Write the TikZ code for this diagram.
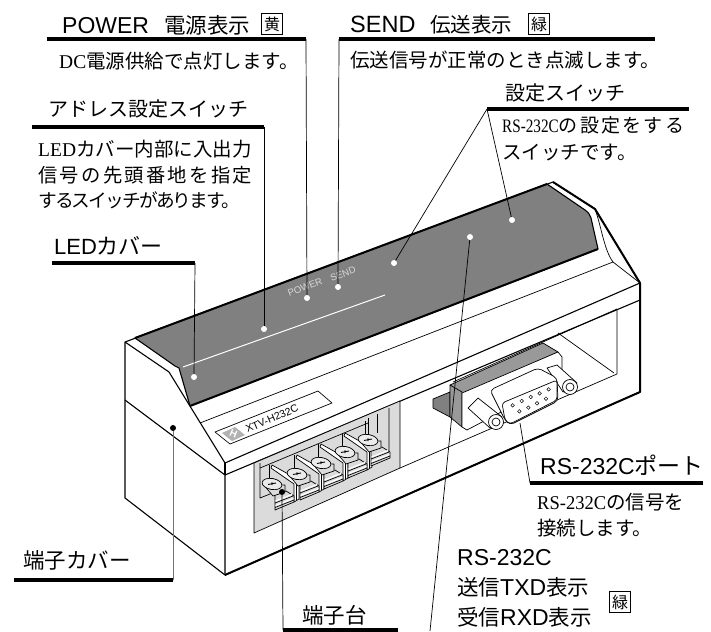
\documentclass[tikz,border=0pt]{standalone}
\usepackage{fontspec}
\setmainfont{Liberation Sans}
\newfontfamily\cjk{Noto Sans CJK JP}
\newfontfamily\cjkwide[LetterSpace=12]{Noto Sans CJK JP}
\newfontfamily\cjktight[LetterSpace=-10]{Noto Sans CJK JP}
\newfontfamily\lat{Liberation Serif}
\newfontfamily\latnar[FakeStretch=0.8]{Liberation Serif}
\newfontfamily\latmid[FakeStretch=0.95]{Liberation Serif}
\newcommand{\sz}[1]{\fontsize{#1}{#1}\selectfont}
\definecolor{cover}{gray}{0.5}
\definecolor{winfill}{gray}{0.86}
\definecolor{flange}{gray}{0.6}
\tikzset{
  rulebar/.style={line width=3.2pt},
  leader/.style={line width=0.7pt},
  outline/.style={line width=1.1pt,line join=round},
  heavy/.style={line width=2pt,line join=round},
  thin part/.style={line width=0.7pt,line join=round},
  wdot/.style={circle,fill=white,inner sep=0pt,minimum size=6pt},
  bdot/.style={circle,fill=black,inner sep=0pt,minimum size=6pt},
  heading/.style={anchor=west,inner sep=0pt,font=\sz{23}},
  note/.style={anchor=west,inner sep=0pt,align=left,font=\sz{19.5}\cjk},
  colourbox/.style={draw,line width=0.6pt,inner sep=0pt,minimum size=20.5pt,font=\sz{16}\cjk},
}
\begin{document}
\begin{tikzpicture}[x=1pt,y=-1pt]
\useasboundingbox (0,0) rectangle (711,631);

% The body
\draw[outline,fill=white] (125,342) -- (553,182) -- (595,209) -- (640,283) -- (640,392)
  -- (225,575) -- (125,498) -- cycle;
\draw[outline] (125,342) -- (169,372) -- (225,463);
\draw[outline] (125,400) -- (225,475) -- (225,575);
\draw[outline] (225,463) -- (225,475);
\draw[outline] (225,463) -- (640,283);
\draw[outline] (225,475) -- (640,300);
\draw[thin part] (200,423) -- (613,262);
\draw[thin part] (595,209) .. controls (601,225) and (604,250) .. (613,262) -- (640,283);
\draw[heavy] (553,182) -- (595,209) -- (640,283) -- (640,392) -- (225,575);

% The LED cover
\draw[outline,fill=cover] (135,338) -- (547,184) -- (585,210) .. controls (589,213) and (590,215) .. (591,218)
  -- (598,249) -- (190,406) -- (179,368) -- (175,366) -- cycle;
\draw[heavy] (135,338) -- (547,184);
\draw[heavy] (598,249) -- (190,406);
\draw[white,line width=1pt] (183,367) -- (385,295);
\node[white!85!black,rotate=21,inner sep=0pt,font=\sz{9.5}] (powermark) at (305,287) {POWER};
\node[white!85!black,rotate=21,inner sep=0pt,font=\sz{9.5}] (sendmark) at (343,274) {SEND};

% The name plate
\draw[thin part] (215,432) -- (318,391) -- (332,403) -- (230,444) -- cycle;
\fill[black!30] (222,433) -- (235,427) -- (245,435) -- (232,441) -- cycle;
\node[white,rotate=-23,inner sep=0pt,font=\bfseries\sz{10}] (logo) at (233.5,434) {H};
\node[rotate=23,inner sep=0pt,font=\sz{10.5}] (modelname) at (272,418.5) {XTV-H232C};

% The terminal window
\draw[thin part,fill=winfill] (254,463) -- (254,533) -- (400,468) -- (400,401) -- cycle;
\draw[thin part] (260,463) -- (260,498) -- (275,492);
\draw[thin part] (260,468) -- (368,423);
\draw[thin part] (368,418) -- (368,434);
\draw[thin part] (377,414) -- (377,433);
\draw[thin part] (389,408) -- (389,456) -- (380,460);
\draw[thin part] (400,468) -- (617,374);
\foreach \sx/\sy in {272/484,297/474,321/463,345/452} {
  \begin{scope}[shift={(\sx,\sy)}]
    \draw[thin part,fill=white] (0,-19) -- (27,-4) -- (27,15) -- (22,18) -- (22,0) -- (-1,-16) -- cycle;
    \draw[thin part] (24,-1) -- (24,16);
  \end{scope}
}
\foreach \sx/\sy in {368/440,345/452,321/463,297/474,272/484} {
  \begin{scope}[shift={(\sx,\sy)}]
    \draw[thin part] (-3,-19) -- (-3,-5);
    \draw[thin part,fill=winfill] (3,11) -- (14,7) -- (22,12) -- (22,18) -- (3,26) -- cycle;
    \draw[white,line width=1.2pt] (3.5,17) -- (20,10.5) (3.5,21.5) -- (21.5,14.5);
    \draw[thin part] (3,19) -- (21,12) (3,23.5) -- (22,16);
    \draw[thin part,fill=winfill] (-9,0) -- (1,12) -- (13,8) -- (13,1) -- cycle;
    \draw[thin part,fill=white!92!black,rotate=-10] (0,0) ellipse[x radius=10,y radius=5.5];
    \draw[line width=0.9pt] (-4,0.5) -- (4,-1) (0,-2) -- (0,1);
  \end{scope}
}

% The port window
\draw[thin part] (453,382) -- (617,309) -- (617,374);
\draw[thin part] (558,333) -- (614,373);

% The D-sub connector
\draw[thin part,fill=cover] (433,399) -- (450,392) -- (450,417) -- (433,408) -- cycle;
\draw[thin part,fill=flange] (450,385) -- (543,343) -- (558,352) -- (462,395) -- cycle;
\draw[thin part,fill=flange] (450,385) -- (462,392) -- (462,427) -- (450,417) -- cycle;
\draw[thin part,fill=white] (462,393) -- (558,352) -- (562,357) -- (562,380) -- (467,430) -- (462,427) -- cycle;
\draw[thin part,fill=white] (547,368) -- (557,365) -- (577,383) -- (563,392) -- cycle;
\draw[thin part,fill=white] (570,387) circle[radius=7.5];
\draw[thin part,fill=white] (570,387) circle[radius=4];
\draw[thin part,rounded corners=4pt,fill=white] (490,390) -- (538,368) -- (557,378) -- (558,401) -- (510,425) -- (505,420) -- cycle;
\draw[thin part,rounded corners=3pt,fill=white] (502,403) -- (557,380) -- (557,400) -- (510,424) -- (505,420) -- cycle;
\draw[thin part,fill=white] (468,408) -- (478,398) -- (502,417) -- (490,428) -- cycle;
\draw[thin part,fill=white] (496,422) circle[radius=7.5];
\draw[thin part,fill=white] (496,422) circle[radius=4];
\foreach \px/\py in {308/316,335/303,362/291,389/280,416/268,328/334,355/323,381/310,408/296} {
  \draw[line width=0.5pt,fill=white] ({410+\px/3},{300+\py/3}) circle[radius=1.8];
}

% The marks on the device
\node[wdot] (dotled) at (194,377) {};
\node[wdot] (dotaddr) at (264,329) {};
\node[wdot] (dotpower) at (307,298) {};
\node[wdot] (dotsend) at (338,287) {};
\node[wdot] (dotset) at (394,263) {};
\node[wdot] (dotsettwo) at (512,220) {};
\node[wdot] (dottx) at (470,237) {};
\node[bdot] (dotblock) at (282,492) {};
\node[bdot] (dotcover) at (173,428) {};
\coordinate (dotport) at (520,423);

% The rules
\coordinate (powerL) at (47,39);   \coordinate (powerR) at (306,39);
\coordinate (sendL) at (339,39);   \coordinate (sendR) at (655,39);
\coordinate (addrL) at (32,127);   \coordinate (addrR) at (264,127);
\coordinate (ledL) at (52,263);    \coordinate (ledR) at (195,263);
\coordinate (setL) at (487,109);   \coordinate (setR) at (689,109);
\coordinate (portL) at (530,483);  \coordinate (portR) at (703,483);
\coordinate (coverL) at (14,580);  \coordinate (coverR) at (173,580);
\coordinate (blockL) at (283,630); \coordinate (blockR) at (398,630);
\coordinate (txend) at (430,631);
\foreach \ra/\rb in {powerL/powerR,sendL/sendR,addrL/addrR,ledL/ledR,setL/setR,portL/portR,coverL/coverR,blockL/blockR} {
  \draw[rulebar] (\ra) -- (\rb);
}

% The leaders
\draw[leader] (powerR) -- (dotpower);
\draw[leader] (sendL) -- (dotsend);
\draw[leader] (addrR) -- (dotaddr);
\draw[leader] (ledR) -- (dotled);
\draw[leader] (setL) -- (dotset);
\draw[leader] (setL) -- (dotsettwo);
\draw[leader] (portL) -- (dotport);
\draw[leader] (dottx) -- (txend);
\draw[leader] (blockL) -- (dotblock);
\draw[leader,black!55,line width=1pt] (coverR) -- (dotcover);

% The texts
\node[heading] (powertitle) at (62,25) {POWER\hspace{15pt}{\sz{21.5}\cjk 電源表示}};
\node[colourbox] (powerbox) at (272,24) {黄};
\node[note] (powernote) at (59,61) {{\lat DC}電源供給で点灯します。};
\node[heading,font=\sz{20}\cjk] (addrtitle) at (48,109) {アドレス設定スイッチ};
\node[note] (addrnote) at (38,175) {{\lat LED}カバー内部に入出力\\[6pt]
  {\sz{19.3}\cjkwide 信号の先頭番地を指定}\\[6pt]
  {\sz{18.7}\cjktight するスイッチがあります。}};
\node[heading,font=\sz{22}] (ledtitle) at (54,246) {LED{\cjk カバー}};
\node[heading,font=\sz{23.5}] (sendtitle) at (350,25) {SEND\hspace{15pt}{\sz{20.5}\cjk 伝送表示}};
\node[colourbox] (sendbox) at (539,24) {緑};
\node[note] (sendnote) at (350,60) {伝送信号が正常のとき点滅します。};
\node[heading,font=\sz{20}\cjk] (settitle) at (505,93) {設定スイッチ};
\node[note] (setnote) at (502,139) {{\sz{19}\cjkwide{\latnar RS-232C}の設定をする}\\[7pt]スイッチです。};
\node[heading,font=\sz{23}] (porttitle) at (540,465) {RS-232C{\sz{23}\cjk ポート}};
\node[note] (portnote) at (537,515) {{\latmid RS-232C}の信号を\\[7pt]接続します。};
\node[heading,font=\sz{21.5}\cjk] (blocktitle) at (302,615) {端子台};
\node[heading,font=\sz{21.5}\cjk] (covertitle) at (23,560) {端子カバー};
\node[heading,font=\sz{23}] (txtitle) at (457,558) {RS-232C};
\node[heading,font=\sz{21.5}\cjk] (txline) at (457,587) {送信{\sz{23}\rmfamily TXD}表示};
\node[heading,font=\sz{21.5}\cjk] (rxline) at (457,617) {受信{\sz{23}\rmfamily RXD}表示};
\node[colourbox] (txbox) at (620,602) {緑};
\end{tikzpicture}
\end{document}
